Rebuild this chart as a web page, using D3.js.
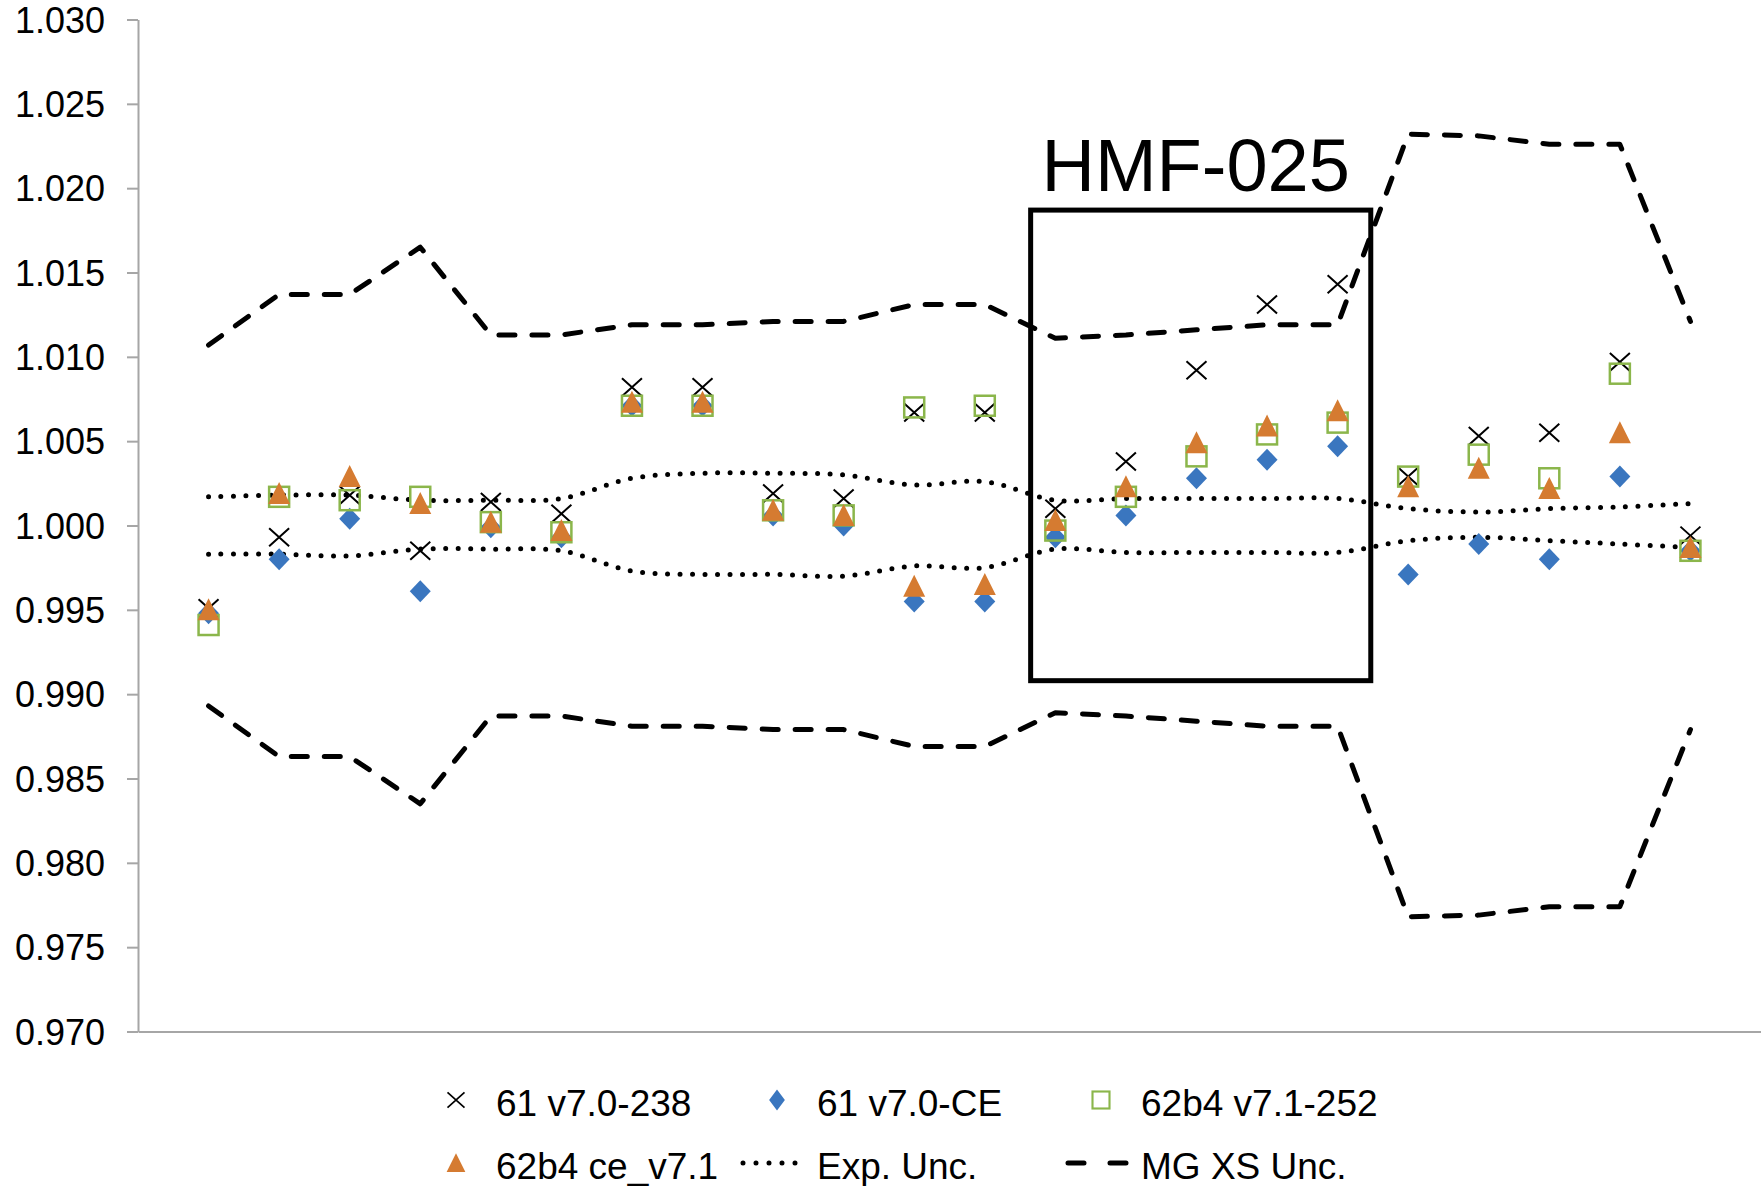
<!DOCTYPE html>
<html>
<head>
<meta charset="utf-8">
<script src="https://cdn.jsdelivr.net/npm/d3@7"></script>
<style>
  html, body { margin: 0; padding: 0; background: #fff; }
  svg { display: block; font-family: "Liberation Sans", Arial, sans-serif; }
</style>
</head>
<body>
<svg id="chart" width="1761" height="1186"></svg>
<script>
// case index 1..22 along the x axis
const cases = d3.range(1, 23);

// calculated k-eff ratios per code/library
const v70_238 = [0.9951, 0.9993, 1.0018, 0.9985, 1.0014, 1.0007, 1.0082, 1.0082, 1.0019, 1.0016, 1.0067,
                 1.0067, 1.0010, 1.0038, 1.0092, 1.0131, 1.0143, 1.0029, 1.0053, 1.0055, 1.0097, 0.9994];
const v70_CE = [0.9948, 0.9980, 1.0004, 0.9961, 0.9999, 0.9993, 1.0071, 1.0071, 1.0006, 1.0000, 0.9955,
                0.9955, 0.9993, 1.0006, 1.0028, 1.0039, 1.0047, 0.9971, 0.9989, 0.9980, 1.0029, 0.9985];
const v71_252 = [0.9941, 1.0017, 1.0015, 1.0017, 1.0002, 0.9996, 1.0071, 1.0071, 1.0009, 1.0006, 1.0070,
                 1.0071, 0.9997, 1.0017, 1.0041, 1.0054, 1.0061, 1.0029, 1.0042, 1.0028, 1.0090, 0.9985];
const ce_v71 = [0.9950, 1.0019, 1.0029, 1.0013, 1.0002, 0.9997, 1.0073, 1.0073, 1.0009, 1.0006, 0.9964,
                0.9965, 1.0003, 1.0023, 1.0049, 1.0059, 1.0068, 1.0023, 1.0034, 1.0022, 1.0055, 0.9987];

// experimental uncertainty band
const expUpper = [1.0017, 1.0018, 1.0018, 1.0015, 1.0015, 1.0016, 1.0028, 1.0031, 1.0031, 1.0030, 1.0024,
                  1.0026, 1.0015, 1.0016, 1.0016, 1.0016, 1.0016, 1.0010, 1.0008, 1.0010, 1.0011, 1.0013];
const expLower = [0.9983, 0.9983, 0.9982, 0.9986, 0.9986, 0.9985, 0.9973, 0.9971, 0.9971, 0.9970, 0.9976,
                  0.9975, 0.9986, 0.9984, 0.9984, 0.9984, 0.9984, 0.9991, 0.9993, 0.9991, 0.9989, 0.9987];

// multigroup cross-section uncertainty band
const mgUpper = [1.0107, 1.0137, 1.0137, 1.0165, 1.0113, 1.0113, 1.0119, 1.0119, 1.0121, 1.0121, 1.0131,
                 1.0131, 1.0111, 1.0113, 1.0116, 1.0119, 1.0119, 1.0232, 1.0231, 1.0226, 1.0226, 1.0121];
const mgLower = [0.9893, 0.9863, 0.9863, 0.9835, 0.9887, 0.9887, 0.9881, 0.9881, 0.9879, 0.9879, 0.9869,
                 0.9869, 0.9889, 0.9887, 0.9884, 0.9881, 0.9881, 0.9768, 0.9769, 0.9774, 0.9774, 0.9879];

const yTicks = [0.970, 0.975, 0.980, 0.985, 0.990, 0.995, 1.000, 1.005, 1.010, 1.015, 1.020, 1.025, 1.030];

// highlighted block of cases
const boxLabel = 'HMF-025';
const boxCases = [12.65, 17.47];
const boxRange = [0.9908, 1.0187];

const seriesNames = ['61 v7.0-238', '61 v7.0-CE', '62b4 v7.1-252', '62b4 ce_v7.1', 'Exp. Unc.', 'MG XS Unc.'];

const svg = d3.select('#chart');

const x = d3.scaleLinear().domain([0, 23]).range([138, 1761]);
const y = d3.scaleLinear().domain([0.970, 1.030]).range([1031.5, 19.5]);

const axisColor = '#a6a6a6';
const blue = '#3a76bf', orange = '#d57b31', green = '#8bb64b';

// axes
const xAxis = svg.append('g')
    .attr('transform', `translate(0,${y(0.970)})`)
    .call(d3.axisBottom(x).tickValues([]).tickSizeOuter(0));
xAxis.select('.domain').attr('stroke', axisColor).attr('stroke-width', 2);

const yAxis = svg.append('g')
    .attr('transform', `translate(${x(0)},0)`)
    .call(d3.axisLeft(y).tickValues(yTicks).tickSize(11).tickSizeOuter(0).tickPadding(22)
        .tickFormat(d3.format('.3f')));
yAxis.select('.domain').attr('stroke', axisColor).attr('stroke-width', 2);
yAxis.selectAll('.tick line').attr('stroke', axisColor).attr('stroke-width', 2);
yAxis.selectAll('.tick text')
    .attr('fill', '#000')
    .style('font-size', '36px')
    .style('font-family', '"Liberation Sans", Arial, sans-serif')
    .attr('dy', '0.35em');

// uncertainty lines
const dotted = { stroke: '#000', width: 5, dash: '0 12.5', cap: 'round' };
const dashed = { stroke: '#000', width: 5, dash: '16 17', cap: 'round' };

const smoothLine = d3.line().x((d, i) => x(cases[i])).y(d => y(d)).curve(d3.curveCatmullRom.alpha(0.5));
const straightLine = d3.line().x((d, i) => x(cases[i])).y(d => y(d));

function drawLine(values, gen, st) {
    svg.append('path')
        .datum(values)
        .attr('d', gen)
        .attr('fill', 'none')
        .attr('stroke', st.stroke)
        .attr('stroke-width', st.width)
        .attr('stroke-dasharray', st.dash)
        .attr('stroke-linecap', st.cap)
        .attr('stroke-linejoin', 'round');
}
drawLine(expUpper, smoothLine, dotted);
drawLine(expLower, smoothLine, dotted);
drawLine(mgUpper, straightLine, dashed);
drawLine(mgLower, straightLine, dashed);

// marker shapes
const markers = {
    cross: g => g.append('path').attr('d', 'M-10,-9L10,9M-10,9L10,-9')
        .attr('stroke', '#000').attr('stroke-width', 2).attr('fill', 'none'),
    diamond: g => g.append('path').attr('d', 'M0,-11L10.5,0L0,11L-10.5,0Z').attr('fill', blue),
    square: g => g.append('rect').attr('x', -10).attr('y', -10).attr('width', 20).attr('height', 20)
        .attr('fill', 'none').attr('stroke', green).attr('stroke-width', 2.5),
    triangle: g => g.append('path').attr('d', 'M0,-11.5L11,10.5L-11,10.5Z').attr('fill', orange)
};

const pointSeries = [
    { values: v70_238, shape: 'cross' },
    { values: v70_CE, shape: 'diamond' },
    { values: v71_252, shape: 'square' },
    { values: ce_v71, shape: 'triangle' }
];

pointSeries.forEach(s => {
    svg.append('g').selectAll('g')
        .data(s.values)
        .enter()
        .append('g')
        .attr('transform', (d, i) => `translate(${x(cases[i])},${y(d)})`)
        .each(function () { markers[s.shape](d3.select(this)); });
});

// annotation box
svg.append('rect')
    .attr('x', x(boxCases[0]))
    .attr('y', y(boxRange[1]))
    .attr('width', x(boxCases[1]) - x(boxCases[0]))
    .attr('height', y(boxRange[0]) - y(boxRange[1]))
    .attr('fill', 'none')
    .attr('stroke', '#000')
    .attr('stroke-width', 5);

svg.append('text')
    .attr('x', (x(boxCases[0]) + x(boxCases[1])) / 2 - 5)
    .attr('y', y(boxRange[1]) - 19)
    .attr('text-anchor', 'middle')
    .style('font-size', '74px')
    .text(boxLabel);

// legend
const legendCols = [456, 777, 1101];
const legendRows = [1100, 1163];
const legendItems = [
    { name: seriesNames[0], shape: 'cross' },
    { name: seriesNames[1], shape: 'diamond' },
    { name: seriesNames[2], shape: 'square' },
    { name: seriesNames[3], shape: 'triangle' },
    { name: seriesNames[4], line: dotted },
    { name: seriesNames[5], line: dashed }
];

legendItems.forEach((item, i) => {
    const cx = legendCols[i % 3];
    const cy = legendRows[Math.floor(i / 3)];
    const g = svg.append('g').attr('transform', `translate(${cx},${cy})`);
    if (item.shape) {
        const m = g.append('g').attr('transform', item.shape === 'diamond' ? 'scale(0.75,0.95)' : 'scale(0.85)');
        markers[item.shape](m);
    } else {
        const dashedSample = item.line === dashed;
        g.append('line')
            .attr('x1', dashedSample ? -33 : -34).attr('x2', dashedSample ? 28 : 31)
            .attr('y1', 0).attr('y2', 0)
            .attr('stroke', item.line.stroke)
            .attr('stroke-width', item.line.width)
            .attr('stroke-dasharray', dashedSample ? '16 26' : '0 13')
            .attr('stroke-linecap', item.line.cap);
    }
    g.append('text')
        .attr('x', 40)
        .attr('y', 16)
        .style('font-size', '37px')
        .text(item.name);
});
</script>
</body>
</html>
